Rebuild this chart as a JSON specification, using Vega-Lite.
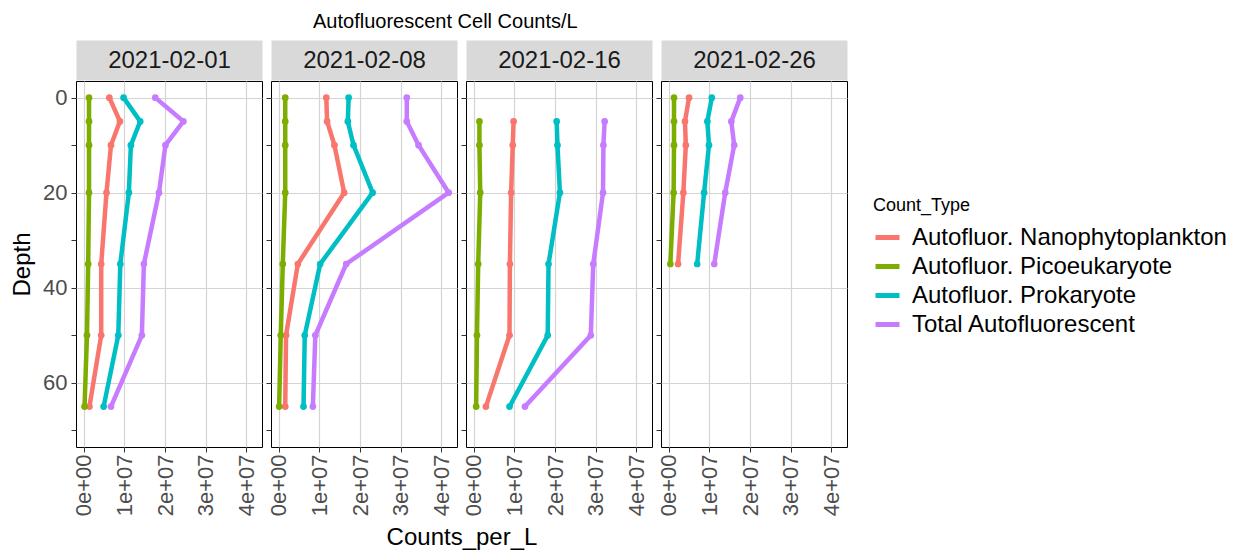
{
  "$schema": "https://vega.github.io/schema/vega-lite/v6.json",
  "background": "white",
  "padding": {"left": 10, "top": 11, "right": 5, "bottom": 2},
  "title": {"text": "Autofluorescent Cell Counts/L", "fontSize": 20, "fontWeight": "normal", "color": "#000000", "anchor": "start", "dx": 303, "offset": 16},
  "config": {
    "font": "Liberation Sans",
    "view": {"stroke": "#000000", "strokeWidth": 1},
    "axis": {
      "domain": false,
      "tickColor": "#333333",
      "tickSize": 5,
      "labelColor": "#4D4D4D",
      "labelFontSize": 22,
      "gridColor": "#D4D4D4",
      "gridWidth": 1.2,
      "titleColor": "#000000",
      "titleFontSize": 24,
      "titleFontWeight": "normal"
    },
    "legend": {
      "orient": "none",
      "legendX": 797,
      "legendY": 116,
      "titleFontSize": 18,
      "titleFontWeight": "normal",
      "titleColor": "#000000",
      "titlePadding": 8,
      "labelFontSize": 24,
      "labelColor": "#000000",
      "labelLimit": 400,
      "symbolType": "stroke",
      "symbolSize": 576,
      "symbolStrokeWidth": 5,
      "rowPadding": 2,
      "labelOffset": 10
    }
  },
  "datasets": {
    "counts": [
      {"Date": "2021-02-01", "Depth": 0, "Count_Type": "Autofluor. Nanophytoplankton", "Counts_per_L": 6300000},
      {"Date": "2021-02-01", "Depth": 5, "Count_Type": "Autofluor. Nanophytoplankton", "Counts_per_L": 8900000},
      {"Date": "2021-02-01", "Depth": 10, "Count_Type": "Autofluor. Nanophytoplankton", "Counts_per_L": 6700000},
      {"Date": "2021-02-01", "Depth": 20, "Count_Type": "Autofluor. Nanophytoplankton", "Counts_per_L": 5600000},
      {"Date": "2021-02-01", "Depth": 35, "Count_Type": "Autofluor. Nanophytoplankton", "Counts_per_L": 4300000},
      {"Date": "2021-02-01", "Depth": 50, "Count_Type": "Autofluor. Nanophytoplankton", "Counts_per_L": 4300000},
      {"Date": "2021-02-01", "Depth": 65, "Count_Type": "Autofluor. Nanophytoplankton", "Counts_per_L": 1400000},
      {"Date": "2021-02-01", "Depth": 0, "Count_Type": "Autofluor. Picoeukaryote", "Counts_per_L": 1300000},
      {"Date": "2021-02-01", "Depth": 5, "Count_Type": "Autofluor. Picoeukaryote", "Counts_per_L": 1300000},
      {"Date": "2021-02-01", "Depth": 10, "Count_Type": "Autofluor. Picoeukaryote", "Counts_per_L": 1300000},
      {"Date": "2021-02-01", "Depth": 20, "Count_Type": "Autofluor. Picoeukaryote", "Counts_per_L": 1300000},
      {"Date": "2021-02-01", "Depth": 35, "Count_Type": "Autofluor. Picoeukaryote", "Counts_per_L": 1100000},
      {"Date": "2021-02-01", "Depth": 50, "Count_Type": "Autofluor. Picoeukaryote", "Counts_per_L": 800000},
      {"Date": "2021-02-01", "Depth": 65, "Count_Type": "Autofluor. Picoeukaryote", "Counts_per_L": 200000},
      {"Date": "2021-02-01", "Depth": 0, "Count_Type": "Autofluor. Prokaryote", "Counts_per_L": 9800000},
      {"Date": "2021-02-01", "Depth": 5, "Count_Type": "Autofluor. Prokaryote", "Counts_per_L": 13900000},
      {"Date": "2021-02-01", "Depth": 10, "Count_Type": "Autofluor. Prokaryote", "Counts_per_L": 11600000},
      {"Date": "2021-02-01", "Depth": 20, "Count_Type": "Autofluor. Prokaryote", "Counts_per_L": 11100000},
      {"Date": "2021-02-01", "Depth": 35, "Count_Type": "Autofluor. Prokaryote", "Counts_per_L": 9000000},
      {"Date": "2021-02-01", "Depth": 50, "Count_Type": "Autofluor. Prokaryote", "Counts_per_L": 8500000},
      {"Date": "2021-02-01", "Depth": 65, "Count_Type": "Autofluor. Prokaryote", "Counts_per_L": 4900000},
      {"Date": "2021-02-01", "Depth": 0, "Count_Type": "Total Autofluorescent", "Counts_per_L": 17600000},
      {"Date": "2021-02-01", "Depth": 5, "Count_Type": "Total Autofluorescent", "Counts_per_L": 24500000},
      {"Date": "2021-02-01", "Depth": 10, "Count_Type": "Total Autofluorescent", "Counts_per_L": 20100000},
      {"Date": "2021-02-01", "Depth": 20, "Count_Type": "Total Autofluorescent", "Counts_per_L": 18500000},
      {"Date": "2021-02-01", "Depth": 35, "Count_Type": "Total Autofluorescent", "Counts_per_L": 14800000},
      {"Date": "2021-02-01", "Depth": 50, "Count_Type": "Total Autofluorescent", "Counts_per_L": 14300000},
      {"Date": "2021-02-01", "Depth": 65, "Count_Type": "Total Autofluorescent", "Counts_per_L": 6700000},

      {"Date": "2021-02-08", "Depth": 0, "Count_Type": "Autofluor. Nanophytoplankton", "Counts_per_L": 11700000},
      {"Date": "2021-02-08", "Depth": 5, "Count_Type": "Autofluor. Nanophytoplankton", "Counts_per_L": 11900000},
      {"Date": "2021-02-08", "Depth": 10, "Count_Type": "Autofluor. Nanophytoplankton", "Counts_per_L": 13700000},
      {"Date": "2021-02-08", "Depth": 20, "Count_Type": "Autofluor. Nanophytoplankton", "Counts_per_L": 16100000},
      {"Date": "2021-02-08", "Depth": 35, "Count_Type": "Autofluor. Nanophytoplankton", "Counts_per_L": 4700000},
      {"Date": "2021-02-08", "Depth": 50, "Count_Type": "Autofluor. Nanophytoplankton", "Counts_per_L": 1800000},
      {"Date": "2021-02-08", "Depth": 65, "Count_Type": "Autofluor. Nanophytoplankton", "Counts_per_L": 1600000},
      {"Date": "2021-02-08", "Depth": 0, "Count_Type": "Autofluor. Picoeukaryote", "Counts_per_L": 1600000},
      {"Date": "2021-02-08", "Depth": 5, "Count_Type": "Autofluor. Picoeukaryote", "Counts_per_L": 1600000},
      {"Date": "2021-02-08", "Depth": 10, "Count_Type": "Autofluor. Picoeukaryote", "Counts_per_L": 1600000},
      {"Date": "2021-02-08", "Depth": 20, "Count_Type": "Autofluor. Picoeukaryote", "Counts_per_L": 1600000},
      {"Date": "2021-02-08", "Depth": 35, "Count_Type": "Autofluor. Picoeukaryote", "Counts_per_L": 1000000},
      {"Date": "2021-02-08", "Depth": 50, "Count_Type": "Autofluor. Picoeukaryote", "Counts_per_L": 500000},
      {"Date": "2021-02-08", "Depth": 65, "Count_Type": "Autofluor. Picoeukaryote", "Counts_per_L": 100000},
      {"Date": "2021-02-08", "Depth": 0, "Count_Type": "Autofluor. Prokaryote", "Counts_per_L": 17200000},
      {"Date": "2021-02-08", "Depth": 5, "Count_Type": "Autofluor. Prokaryote", "Counts_per_L": 17000000},
      {"Date": "2021-02-08", "Depth": 10, "Count_Type": "Autofluor. Prokaryote", "Counts_per_L": 18400000},
      {"Date": "2021-02-08", "Depth": 20, "Count_Type": "Autofluor. Prokaryote", "Counts_per_L": 23100000},
      {"Date": "2021-02-08", "Depth": 35, "Count_Type": "Autofluor. Prokaryote", "Counts_per_L": 10200000},
      {"Date": "2021-02-08", "Depth": 50, "Count_Type": "Autofluor. Prokaryote", "Counts_per_L": 6400000},
      {"Date": "2021-02-08", "Depth": 65, "Count_Type": "Autofluor. Prokaryote", "Counts_per_L": 6100000},
      {"Date": "2021-02-08", "Depth": 0, "Count_Type": "Total Autofluorescent", "Counts_per_L": 31500000},
      {"Date": "2021-02-08", "Depth": 5, "Count_Type": "Total Autofluorescent", "Counts_per_L": 31500000},
      {"Date": "2021-02-08", "Depth": 10, "Count_Type": "Total Autofluorescent", "Counts_per_L": 34400000},
      {"Date": "2021-02-08", "Depth": 20, "Count_Type": "Total Autofluorescent", "Counts_per_L": 41800000},
      {"Date": "2021-02-08", "Depth": 35, "Count_Type": "Total Autofluorescent", "Counts_per_L": 16600000},
      {"Date": "2021-02-08", "Depth": 50, "Count_Type": "Total Autofluorescent", "Counts_per_L": 9000000},
      {"Date": "2021-02-08", "Depth": 65, "Count_Type": "Total Autofluorescent", "Counts_per_L": 8400000},

      {"Date": "2021-02-16", "Depth": 5, "Count_Type": "Autofluor. Nanophytoplankton", "Counts_per_L": 9800000},
      {"Date": "2021-02-16", "Depth": 10, "Count_Type": "Autofluor. Nanophytoplankton", "Counts_per_L": 9600000},
      {"Date": "2021-02-16", "Depth": 20, "Count_Type": "Autofluor. Nanophytoplankton", "Counts_per_L": 9200000},
      {"Date": "2021-02-16", "Depth": 35, "Count_Type": "Autofluor. Nanophytoplankton", "Counts_per_L": 8900000},
      {"Date": "2021-02-16", "Depth": 50, "Count_Type": "Autofluor. Nanophytoplankton", "Counts_per_L": 8800000},
      {"Date": "2021-02-16", "Depth": 65, "Count_Type": "Autofluor. Nanophytoplankton", "Counts_per_L": 3000000},
      {"Date": "2021-02-16", "Depth": 5, "Count_Type": "Autofluor. Picoeukaryote", "Counts_per_L": 1400000},
      {"Date": "2021-02-16", "Depth": 10, "Count_Type": "Autofluor. Picoeukaryote", "Counts_per_L": 1400000},
      {"Date": "2021-02-16", "Depth": 20, "Count_Type": "Autofluor. Picoeukaryote", "Counts_per_L": 1600000},
      {"Date": "2021-02-16", "Depth": 35, "Count_Type": "Autofluor. Picoeukaryote", "Counts_per_L": 1100000},
      {"Date": "2021-02-16", "Depth": 50, "Count_Type": "Autofluor. Picoeukaryote", "Counts_per_L": 800000},
      {"Date": "2021-02-16", "Depth": 65, "Count_Type": "Autofluor. Picoeukaryote", "Counts_per_L": 600000},
      {"Date": "2021-02-16", "Depth": 5, "Count_Type": "Autofluor. Prokaryote", "Counts_per_L": 20400000},
      {"Date": "2021-02-16", "Depth": 10, "Count_Type": "Autofluor. Prokaryote", "Counts_per_L": 20600000},
      {"Date": "2021-02-16", "Depth": 20, "Count_Type": "Autofluor. Prokaryote", "Counts_per_L": 21200000},
      {"Date": "2021-02-16", "Depth": 35, "Count_Type": "Autofluor. Prokaryote", "Counts_per_L": 18400000},
      {"Date": "2021-02-16", "Depth": 50, "Count_Type": "Autofluor. Prokaryote", "Counts_per_L": 18200000},
      {"Date": "2021-02-16", "Depth": 65, "Count_Type": "Autofluor. Prokaryote", "Counts_per_L": 8800000},
      {"Date": "2021-02-16", "Depth": 5, "Count_Type": "Total Autofluorescent", "Counts_per_L": 32200000},
      {"Date": "2021-02-16", "Depth": 10, "Count_Type": "Total Autofluorescent", "Counts_per_L": 31900000},
      {"Date": "2021-02-16", "Depth": 20, "Count_Type": "Total Autofluorescent", "Counts_per_L": 31800000},
      {"Date": "2021-02-16", "Depth": 35, "Count_Type": "Total Autofluorescent", "Counts_per_L": 29400000},
      {"Date": "2021-02-16", "Depth": 50, "Count_Type": "Total Autofluorescent", "Counts_per_L": 28800000},
      {"Date": "2021-02-16", "Depth": 65, "Count_Type": "Total Autofluorescent", "Counts_per_L": 12600000},

      {"Date": "2021-02-26", "Depth": 0, "Count_Type": "Autofluor. Nanophytoplankton", "Counts_per_L": 5000000},
      {"Date": "2021-02-26", "Depth": 5, "Count_Type": "Autofluor. Nanophytoplankton", "Counts_per_L": 4000000},
      {"Date": "2021-02-26", "Depth": 10, "Count_Type": "Autofluor. Nanophytoplankton", "Counts_per_L": 4200000},
      {"Date": "2021-02-26", "Depth": 20, "Count_Type": "Autofluor. Nanophytoplankton", "Counts_per_L": 3600000},
      {"Date": "2021-02-26", "Depth": 35, "Count_Type": "Autofluor. Nanophytoplankton", "Counts_per_L": 2300000},
      {"Date": "2021-02-26", "Depth": 0, "Count_Type": "Autofluor. Picoeukaryote", "Counts_per_L": 1300000},
      {"Date": "2021-02-26", "Depth": 5, "Count_Type": "Autofluor. Picoeukaryote", "Counts_per_L": 1300000},
      {"Date": "2021-02-26", "Depth": 10, "Count_Type": "Autofluor. Picoeukaryote", "Counts_per_L": 1300000},
      {"Date": "2021-02-26", "Depth": 20, "Count_Type": "Autofluor. Picoeukaryote", "Counts_per_L": 1200000},
      {"Date": "2021-02-26", "Depth": 35, "Count_Type": "Autofluor. Picoeukaryote", "Counts_per_L": 400000},
      {"Date": "2021-02-26", "Depth": 0, "Count_Type": "Autofluor. Prokaryote", "Counts_per_L": 10600000},
      {"Date": "2021-02-26", "Depth": 5, "Count_Type": "Autofluor. Prokaryote", "Counts_per_L": 9500000},
      {"Date": "2021-02-26", "Depth": 10, "Count_Type": "Autofluor. Prokaryote", "Counts_per_L": 9900000},
      {"Date": "2021-02-26", "Depth": 20, "Count_Type": "Autofluor. Prokaryote", "Counts_per_L": 8700000},
      {"Date": "2021-02-26", "Depth": 35, "Count_Type": "Autofluor. Prokaryote", "Counts_per_L": 7000000},
      {"Date": "2021-02-26", "Depth": 0, "Count_Type": "Total Autofluorescent", "Counts_per_L": 17600000},
      {"Date": "2021-02-26", "Depth": 5, "Count_Type": "Total Autofluorescent", "Counts_per_L": 15400000},
      {"Date": "2021-02-26", "Depth": 10, "Count_Type": "Total Autofluorescent", "Counts_per_L": 16100000},
      {"Date": "2021-02-26", "Depth": 20, "Count_Type": "Total Autofluorescent", "Counts_per_L": 13900000},
      {"Date": "2021-02-26", "Depth": 35, "Count_Type": "Total Autofluorescent", "Counts_per_L": 11200000}
    ]
  },
  "spacing": 9,
  "bounds": "flush",
  "hconcat": [
    {
      "width": 186, "height": 366,
      "data": {"name": "counts"},
      "transform": [{"filter": "datum.Date === '2021-02-01'"}],
      "resolve": {"axis": {"x": "independent"}},
      "encoding": {
        "y": {"field": "Depth", "type": "quantitative",
              "scale": {"domain": [-3.5, 73.5], "reverse": true, "nice": false, "zero": false},
              "axis": {"values": [0, 10, 20, 30, 40, 50, 60, 70], "labelPadding": 4, "titlePadding": 8,
                       "labelExpr": "datum.value % 20 === 0 ? datum.label : ''",
                       "gridOpacity": {"condition": {"test": "datum.value % 20 === 0", "value": 1}, "value": 0},
                       "title": "Depth"}},
        "color": {"field": "Count_Type", "type": "nominal", "title": "Count_Type",
                  "scale": {"domain": ["Autofluor. Nanophytoplankton", "Autofluor. Picoeukaryote", "Autofluor. Prokaryote", "Total Autofluorescent"],
                            "range": ["#F8766D", "#7CAE00", "#00BFC4", "#C77CFF"]}},
        "order": {"field": "Depth", "type": "quantitative"}
      },
      "layer": [
        {"mark": {"type": "line", "strokeWidth": 4.5},
         "encoding": {"x": {"field": "Counts_per_L", "type": "quantitative",
            "scale": {"domain": [-1900000, 43850000], "nice": false, "zero": false},
            "axis": {"orient": "bottom", "values": [0, 10000000, 20000000, 30000000, 40000000], "labelAngle": -90, "labelPadding": 2,
                     "labelExpr": "datum.value === 0 ? '0e+00' : format(datum.value / 10000000, 'd') + 'e+07'",
                     "title": null}}}},
        {"mark": {"type": "point", "filled": true, "size": 45, "opacity": 1},
         "encoding": {"x": {"field": "Counts_per_L", "type": "quantitative",
            "axis": {"orient": "top", "grid": false, "ticks": false, "labels": false, "offset": 21,
                     "domain": true, "domainWidth": 40, "domainColor": "#D9D9D9", "domainCap": "butt",
                     "title": "2021-02-01", "titleFontSize": 24, "titleColor": "#1A1A1A", "titleFontWeight": "normal",
                     "titleY": 0, "titleBaseline": "middle"}}}}
      ]
    },
    {
      "width": 186, "height": 366,
      "data": {"name": "counts"},
      "transform": [{"filter": "datum.Date === '2021-02-08'"}],
      "resolve": {"axis": {"x": "independent"}},
      "encoding": {
        "y": {"field": "Depth", "type": "quantitative",
              "scale": {"domain": [-3.5, 73.5], "reverse": true, "nice": false, "zero": false},
              "axis": {"values": [0, 10, 20, 30, 40, 50, 60, 70], "labels": false, "title": null,
                       "gridOpacity": {"condition": {"test": "datum.value % 20 === 0", "value": 1}, "value": 0}}},
        "color": {"field": "Count_Type", "type": "nominal", "title": "Count_Type",
                  "scale": {"domain": ["Autofluor. Nanophytoplankton", "Autofluor. Picoeukaryote", "Autofluor. Prokaryote", "Total Autofluorescent"],
                            "range": ["#F8766D", "#7CAE00", "#00BFC4", "#C77CFF"]}},
        "order": {"field": "Depth", "type": "quantitative"}
      },
      "layer": [
        {"mark": {"type": "line", "strokeWidth": 4.5},
         "encoding": {"x": {"field": "Counts_per_L", "type": "quantitative",
            "scale": {"domain": [-1900000, 43850000], "nice": false, "zero": false},
            "axis": {"orient": "bottom", "values": [0, 10000000, 20000000, 30000000, 40000000], "labelAngle": -90, "labelPadding": 2,
                     "labelExpr": "datum.value === 0 ? '0e+00' : format(datum.value / 10000000, 'd') + 'e+07'",
                     "title": "Counts_per_L", "titleX": 190.5, "titleAlign": "center", "titlePadding": 10}}}},
        {"mark": {"type": "point", "filled": true, "size": 45, "opacity": 1},
         "encoding": {"x": {"field": "Counts_per_L", "type": "quantitative",
            "axis": {"orient": "top", "grid": false, "ticks": false, "labels": false, "offset": 21,
                     "domain": true, "domainWidth": 40, "domainColor": "#D9D9D9", "domainCap": "butt",
                     "title": "2021-02-08", "titleFontSize": 24, "titleColor": "#1A1A1A", "titleFontWeight": "normal",
                     "titleY": 0, "titleBaseline": "middle"}}}}
      ]
    },
    {
      "width": 186, "height": 366,
      "data": {"name": "counts"},
      "transform": [{"filter": "datum.Date === '2021-02-16'"}],
      "resolve": {"axis": {"x": "independent"}},
      "encoding": {
        "y": {"field": "Depth", "type": "quantitative",
              "scale": {"domain": [-3.5, 73.5], "reverse": true, "nice": false, "zero": false},
              "axis": {"values": [0, 10, 20, 30, 40, 50, 60, 70], "labels": false, "title": null,
                       "gridOpacity": {"condition": {"test": "datum.value % 20 === 0", "value": 1}, "value": 0}}},
        "color": {"field": "Count_Type", "type": "nominal", "title": "Count_Type",
                  "scale": {"domain": ["Autofluor. Nanophytoplankton", "Autofluor. Picoeukaryote", "Autofluor. Prokaryote", "Total Autofluorescent"],
                            "range": ["#F8766D", "#7CAE00", "#00BFC4", "#C77CFF"]}},
        "order": {"field": "Depth", "type": "quantitative"}
      },
      "layer": [
        {"mark": {"type": "line", "strokeWidth": 4.5},
         "encoding": {"x": {"field": "Counts_per_L", "type": "quantitative",
            "scale": {"domain": [-1900000, 43850000], "nice": false, "zero": false},
            "axis": {"orient": "bottom", "values": [0, 10000000, 20000000, 30000000, 40000000], "labelAngle": -90, "labelPadding": 2,
                     "labelExpr": "datum.value === 0 ? '0e+00' : format(datum.value / 10000000, 'd') + 'e+07'",
                     "title": null}}}},
        {"mark": {"type": "point", "filled": true, "size": 45, "opacity": 1},
         "encoding": {"x": {"field": "Counts_per_L", "type": "quantitative",
            "axis": {"orient": "top", "grid": false, "ticks": false, "labels": false, "offset": 21,
                     "domain": true, "domainWidth": 40, "domainColor": "#D9D9D9", "domainCap": "butt",
                     "title": "2021-02-16", "titleFontSize": 24, "titleColor": "#1A1A1A", "titleFontWeight": "normal",
                     "titleY": 0, "titleBaseline": "middle"}}}}
      ]
    },
    {
      "width": 186, "height": 366,
      "data": {"name": "counts"},
      "transform": [{"filter": "datum.Date === '2021-02-26'"}],
      "resolve": {"axis": {"x": "independent"}},
      "encoding": {
        "y": {"field": "Depth", "type": "quantitative",
              "scale": {"domain": [-3.5, 73.5], "reverse": true, "nice": false, "zero": false},
              "axis": {"values": [0, 10, 20, 30, 40, 50, 60, 70], "labels": false, "title": null,
                       "gridOpacity": {"condition": {"test": "datum.value % 20 === 0", "value": 1}, "value": 0}}},
        "color": {"field": "Count_Type", "type": "nominal", "title": "Count_Type",
                  "scale": {"domain": ["Autofluor. Nanophytoplankton", "Autofluor. Picoeukaryote", "Autofluor. Prokaryote", "Total Autofluorescent"],
                            "range": ["#F8766D", "#7CAE00", "#00BFC4", "#C77CFF"]}},
        "order": {"field": "Depth", "type": "quantitative"}
      },
      "layer": [
        {"mark": {"type": "line", "strokeWidth": 4.5},
         "encoding": {"x": {"field": "Counts_per_L", "type": "quantitative",
            "scale": {"domain": [-1900000, 43850000], "nice": false, "zero": false},
            "axis": {"orient": "bottom", "values": [0, 10000000, 20000000, 30000000, 40000000], "labelAngle": -90, "labelPadding": 2,
                     "labelExpr": "datum.value === 0 ? '0e+00' : format(datum.value / 10000000, 'd') + 'e+07'",
                     "title": null}}}},
        {"mark": {"type": "point", "filled": true, "size": 45, "opacity": 1},
         "encoding": {"x": {"field": "Counts_per_L", "type": "quantitative",
            "axis": {"orient": "top", "grid": false, "ticks": false, "labels": false, "offset": 21,
                     "domain": true, "domainWidth": 40, "domainColor": "#D9D9D9", "domainCap": "butt",
                     "title": "2021-02-26", "titleFontSize": 24, "titleColor": "#1A1A1A", "titleFontWeight": "normal",
                     "titleY": 0, "titleBaseline": "middle"}}}}
      ]
    }
  ]
}
